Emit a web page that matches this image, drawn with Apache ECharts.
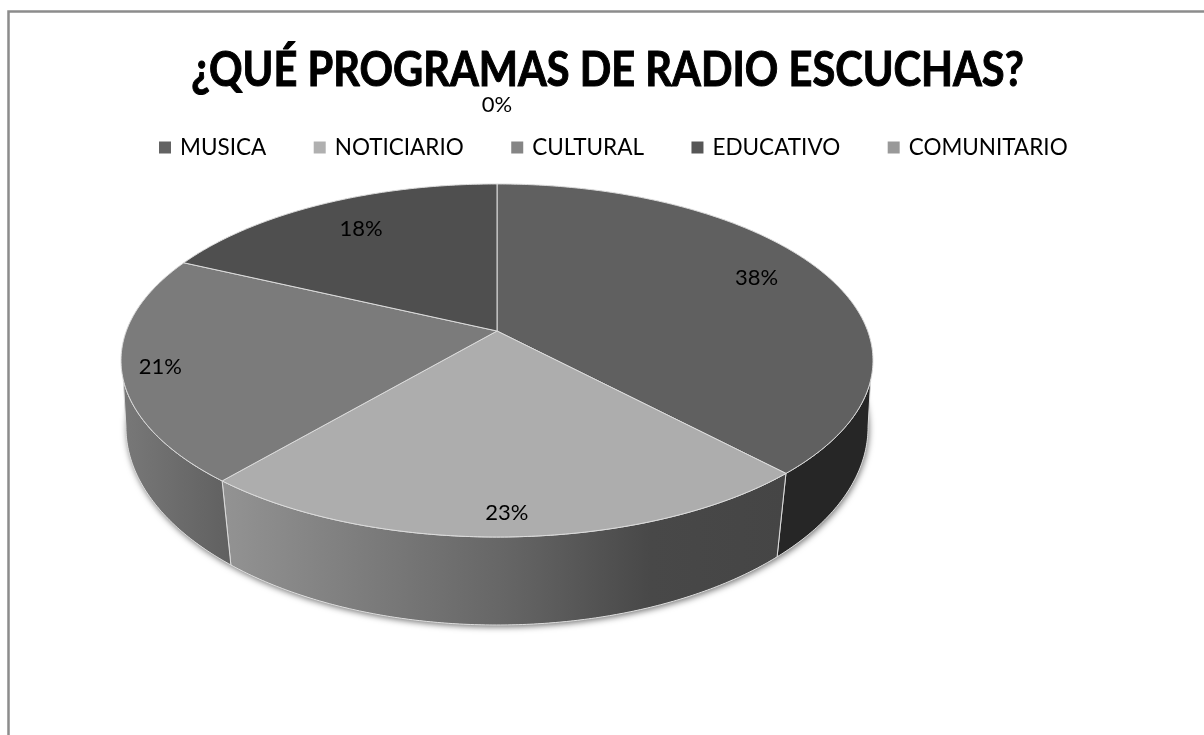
<!DOCTYPE html>
<html><head><meta charset="utf-8">
<script src="https://cdn.jsdelivr.net/npm/echarts@6/dist/echarts.min.js"></script>
<style>html,body{margin:0;padding:0;background:#fff;overflow:hidden}#c{width:1204px;height:735px}</style>
</head><body><div id="c"></div>
<script>
const chartTitle = '¿QUÉ PROGRAMAS DE RADIO ESCUCHAS?';
const categories = ['MUSICA', 'NOTICIARIO', 'CULTURAL', 'EDUCATIVO', 'COMUNITARIO'];
const percentValues = [38, 23.2, 20.8, 18, 0];

const topColors = ['#606060', '#adadad', '#7b7b7b', '#4f4f4f', '#969696'];
const legendColors = ['#636363', '#b0b0b0', '#858585', '#565656', '#999999'];
const labelRadius = [0.79, 0.895, 0.9, 0.77, 1.69];
const labelNudge = [[0, -6], [0, 1], [0, 2], [2, -1], [0, 0]];

const TOP = {cx: 497, cy: 331, a: 171.6, b: 370.7, k: 0.167};
const LOW = {cx: 497, cy: 399.3, a: 194.1, b: 367.4, k: 0.14};
const TOP_RANGE = [105.8, 254.2], LOW_RANGE = [98, 262];
const EDGE = '#dcdcdc';

function wallFill(i) {
  const G = echarts.graphic.LinearGradient;
  if (i === 0) return '#262626';
  if (i === 1) return new G(0, 0, 1, 0, [{offset: 0, color: '#939393'}, {offset: .5, color: '#666666'}, {offset: .76, color: '#484848'}, {offset: 1, color: '#454545'}]);
  return new G(0, 0, 1, 0, [{offset: 0, color: '#787878'}, {offset: 1, color: '#606060'}]);
}
function project(P, deg, r) {
  const t = deg * Math.PI / 180, u = r * Math.sin(t), v = r * Math.cos(t), d = 1 + P.k * v;
  return [P.cx + P.b * u / d, P.cy - P.a * v / d];
}
function arc(P, from, to) {
  const pts = [], n = Math.max(1, Math.ceil(Math.abs(to - from) * 2));
  for (let i = 0; i <= n; i++) pts.push(project(P, from + (to - from) * i / n, 1));
  return pts;
}
const total = percentValues.reduce((s, v) => s + v, 0);

function renderSlice(i) {
  return function (params, api) {
    const value = api.value(0);
    let before = 0;
    for (let j = 0; j < i; j++) before += percentValues[j];
    const a0 = before / total * 360, a1 = (before + value) / total * 360, mid = (a0 + a1) / 2;
    const children = [];
    if (i === 0) {
      children.push({type: 'polygon', z2: 1, shape: {points: arc(LOW, 0, 360)},
        style: {fill: '#fff', shadowBlur: 6, shadowColor: 'rgba(0,0,0,0.55)', shadowOffsetX: 1, shadowOffsetY: 2}});
    }
    const t0 = Math.max(a0, TOP_RANGE[0]), t1 = Math.min(a1, TOP_RANGE[1]);
    const l0 = Math.max(a0, LOW_RANGE[0]), l1 = Math.min(a1, LOW_RANGE[1]);
    if (value > 0 && t1 > t0) {
      children.push({type: 'polygon', z2: 2, shape: {points: arc(TOP, t0, t1).concat(arc(LOW, l1, l0))},
        style: {fill: wallFill(i), stroke: EDGE, lineWidth: 1}});
    }
    if (value > 0) {
      children.push({type: 'polygon', z2: 3, shape: {points: [[TOP.cx, TOP.cy]].concat(arc(TOP, a0, a1))},
        style: {fill: topColors[i], stroke: EDGE, lineWidth: 1, lineJoin: 'round'}});
    }
    const p = project(TOP, mid, labelRadius[i]);
    children.push({type: 'text', z2: 5, x: p[0] + labelNudge[i][0], y: p[1] + labelNudge[i][1],
      style: {text: Math.round(value) + '%', fill: '#000', fontFamily: 'Lato', fontSize: 22, align: 'center', verticalAlign: 'middle'}});
    return {type: 'group', children};
  };
}

const chart = echarts.init(document.getElementById('c'), null, {renderer: 'canvas'});
chart.setOption({
  animation: false,
  backgroundColor: '#fff',
  legend: {left: 154, top: 131, itemWidth: 12, itemHeight: 12, itemGap: 47.5, icon: 'rect', selectedMode: false,
    textStyle: {fontFamily: 'Lato', fontSize: 22.5, color: '#000', padding: [0, 0, 0, 4]},
    data: categories},
  graphic: [
    {type: 'rect', silent: true, shape: {x: 8.5, y: 11.5, width: 1300, height: 900},
      style: {fill: 'none', stroke: '#8c8c8c', lineWidth: 2.5}},
    {type: 'text', silent: true, x: 607.5, y: 71, scaleX: 0.884,
      style: {text: chartTitle, fontFamily: 'Lato', fontWeight: 'bold', fontSize: 47, fill: '#000', stroke: '#000', lineWidth: 1, align: 'center', verticalAlign: 'middle'}}
  ],
  series: categories.map((name, i) => ({
    type: 'custom', name, coordinateSystem: 'none', renderItem: renderSlice(i), silent: true,
    itemStyle: {color: legendColors[i]}, data: [[percentValues[i]]]
  }))
});
</script></body></html>
